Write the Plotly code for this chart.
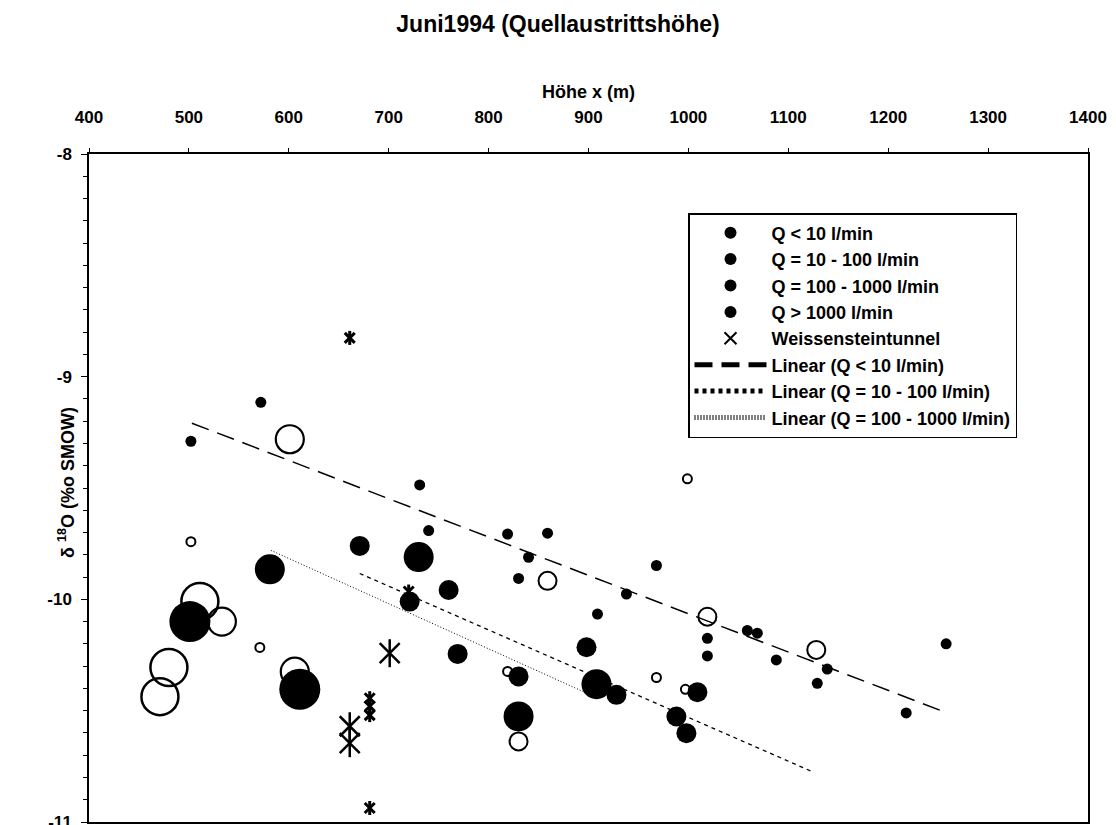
import plotly.graph_objects as go

# ---------------- data ----------------
# Q < 10 l/min
q1_x = [572, 502, 731, 740, 819, 859, 840, 830, 968, 938, 909, 1019, 1019, 1059, 1069, 1088, 1139, 1129, 1218, 1258]
q1_y = [-9.115, -9.29, -9.486, -9.691, -9.707, -9.703, -9.811, -9.906, -9.848, -9.976, -10.066,
        -10.175, -10.254, -10.14, -10.152, -10.272, -10.313, -10.377, -10.51, -10.20]
q1o_x = [502, 571, 819, 999, 968, 997]
q1o_y = [-9.741, -10.216, -10.324, -9.459, -10.351, -10.404]

# Q = 10 - 100 l/min
q2_x = [671, 721, 760, 769, 830, 898, 928, 1009, 988, 998]
q2_y = [-9.76, -10.01, -9.958, -10.245, -10.346, -10.215, -10.429, -10.417, -10.526, -10.601]
q2o_x = [859, 830, 1019, 1128]
q2o_y = [-9.917, -10.638, -10.078, -10.227]

# Q = 100 - 1000 l/min
q3_x = [581, 730, 830, 908]
q3_y = [-9.865, -9.81, -10.526, -10.381]
q3o_x = [601, 533, 606]
q3o_y = [-9.281, -10.10, -10.325]

# Q > 1000 l/min
q4_x = [501, 611]
q4_y = [-10.10, -10.404]
q4o_x = [511, 480, 471]
q4o_y = [-10.01, -10.306, -10.437]

# Weissensteintunnel
w_x = [661, 681, 681, 681, 681, 720]
w_y = [-8.826, -10.444, -10.48, -10.52, -10.937, -9.965]
wl_x = [701, 661, 661]
wl_y = [-10.242, -10.57, -10.646]

# Linear trend lines (end points)
t1_x = [503, 1257]
t1_y = [-9.209, -10.507]
t2_x = [671, 1124]
t2_y = [-9.884, -10.774]
t3_x = [582, 900]
t3_y = [-9.78, -10.425]

x_ticks = [400, 500, 600, 700, 800, 900, 1000, 1100, 1200, 1300, 1400]
y_ticks = [-8, -9, -10, -11]

labels = ["Q < 10 l/min", "Q = 10 - 100 l/min", "Q = 100 - 1000 l/min", "Q > 1000 l/min",
          "Weissensteintunnel", "Linear (Q < 10 l/min)", "Linear (Q = 10 - 100 l/min)",
          "Linear (Q = 100 - 1000 l/min)"]

FONT = "Liberation Sans, Arial, sans-serif"
fig = go.Figure()

def filled(x, y, size, name, grp):
    fig.add_trace(go.Scatter(x=x, y=y, mode="markers", name=name, legendgroup=grp,
                             marker=dict(symbol="circle", size=size, color="black",
                                         line=dict(width=0))))

def hollow(x, y, size, grp, lw=2):
    fig.add_trace(go.Scatter(x=x, y=y, mode="markers", showlegend=False, legendgroup=grp,
                             marker=dict(symbol="circle-open", size=size, color="black",
                                         line=dict(width=lw, color="black"))))

filled(q1_x, q1_y, 11, labels[0], "g1")
hollow(q1o_x, q1o_y, 9, "g1")
filled(q2_x, q2_y, 20, labels[1], "g2")
hollow(q2o_x, q2o_y, 18, "g2")
filled(q3_x, q3_y, 30, labels[2], "g3")
hollow(q3o_x, q3o_y, 28, "g3", 2.2)
filled(q4_x, q4_y, 41, labels[3], "g4")
hollow(q4o_x, q4o_y, 37, "g4", 2.5)

# stars: X plus vertical bar
fig.add_trace(go.Scatter(x=w_x, y=w_y, mode="markers", name=labels[4], legendgroup="g5",
                         marker=dict(symbol="x-thin-open", size=10, color="black",
                                     line=dict(width=3, color="black"))))
fig.add_trace(go.Scatter(x=w_x, y=w_y, mode="markers", showlegend=False, legendgroup="g5",
                         marker=dict(symbol="line-ns-open", size=10, color="black",
                                     line=dict(width=3, color="black"))))
fig.add_trace(go.Scatter(x=wl_x, y=wl_y, mode="markers", showlegend=False, legendgroup="g5",
                         marker=dict(symbol="x-thin-open", size=20, color="black",
                                     line=dict(width=2.5, color="black"))))
fig.add_trace(go.Scatter(x=wl_x, y=wl_y, mode="markers", showlegend=False, legendgroup="g5",
                         marker=dict(symbol="line-ns-open", size=20, color="black",
                                     line=dict(width=2.5, color="black"))))

fig.add_trace(go.Scatter(x=t1_x, y=t1_y, mode="lines", name=labels[5], legendgroup="g6",
                         line=dict(color="black", width=1.5, dash="18px,9px")))
fig.add_trace(go.Scatter(x=t2_x, y=t2_y, mode="lines", name=labels[6], legendgroup="g7",
                         line=dict(color="black", width=1.3, dash="4px,4px")))
fig.add_trace(go.Scatter(x=t3_x, y=t3_y, mode="lines", name=labels[7], legendgroup="g8",
                         line=dict(color="black", width=1, dash="1px,2px")))

# the page body adds an 8 px offset; positions below compensate for it
fig.update_layout(
    width=1116, height=825,
    margin=dict(l=81, r=36, t=146, b=11),
    paper_bgcolor="white", plot_bgcolor="white",
    font=dict(family=FONT, color="black"),
    title=dict(text="Juni1994 (Quellaustrittshöhe)", x=550 / 1116, xanchor="center",
               y=1 - 16 / 825, yanchor="middle",
               font=dict(family=FONT, size=23, weight="bold", color="black")),
    showlegend=True,
    legend=dict(x=(680 - 81) / 999, y=(814 - 205) / 668, xanchor="left", yanchor="top",
                bgcolor="white", bordercolor="black", borderwidth=1.5,
                font=dict(family=FONT, size=18, weight="bold", color="black"),
                itemsizing="constant", itemwidth=72, tracegroupgap=0, traceorder="grouped"),
    xaxis=dict(range=[400, 1400], side="top", tickmode="array", tickvals=x_ticks,
               ticktext=[str(v) for v in x_ticks], automargin=False,
               ticks="outside", ticklen=4, tickwidth=1, tickcolor="black",
               showline=True, linecolor="black", linewidth=1.5, mirror=True,
               showgrid=False, zeroline=False, ticklabelstandoff=18,
               tickfont=dict(family=FONT, size=17, weight="bold", color="black"),
               title=dict(text="Höhe x (m)", standoff=5,
                          font=dict(family=FONT, size=18, weight="bold", color="black"))),
    yaxis=dict(range=[-11, -8], tickmode="array", tickvals=y_ticks,
               ticktext=[str(v) for v in y_ticks], automargin=False,
               ticks="outside", ticklen=6, tickwidth=1, tickcolor="black",
               minor=dict(dtick=0.1, ticks="outside", ticklen=4, tickcolor="black", showgrid=False),
               showline=True, linecolor="black", linewidth=1.5, mirror=True,
               showgrid=False, zeroline=False, ticklabelstandoff=6,
               tickfont=dict(family=FONT, size=17, weight="bold", color="black")),
    annotations=[dict(text="δ <sup>18</sup>O (%o SMOW)", xref="paper", yref="paper",
                      x=(58 - 81) / 999, y=(814 - 475) / 668, xanchor="center", yanchor="middle",
                      textangle=-90, showarrow=False,
                      font=dict(family=FONT, size=18, weight="bold", color="black"))],
)

fig.write_html("out.html")
